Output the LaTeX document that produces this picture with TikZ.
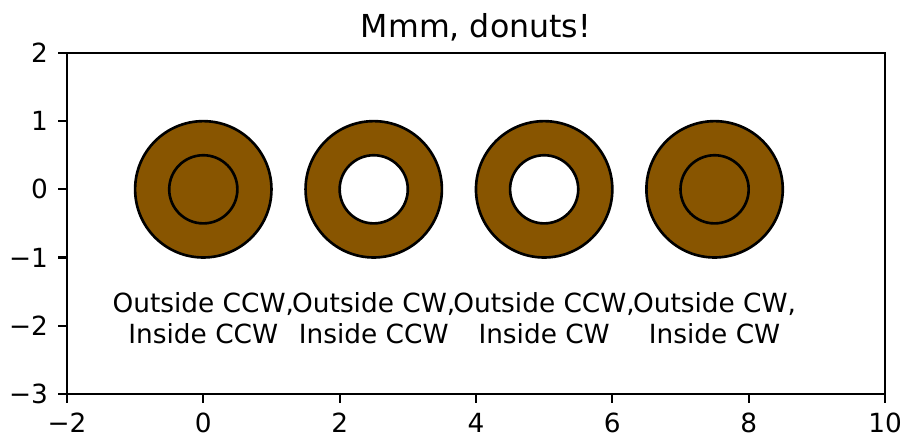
\documentclass[tikz,border=0pt]{standalone}
\usepackage{fontspec}
\setmainfont{DejaVu Sans}
\usepackage{tikz}
\usetikzlibrary{positioning}

\definecolor{donut}{HTML}{885500}

\tikzset{
    spine/.style={line width=0.88pt},
    tick/.style={line width=0.88pt},
    ticklabel/.style={font=\fontsize{11}{13.2}\selectfont, inner sep=0pt},
    ring/.style={fill=donut, draw=black, line width=1.1pt},
    holering/.style={ring, even odd rule}
}

\begin{document}
\begin{tikzpicture}[x=1cm, y=1cm]
    \useasboundingbox (-2.982,-3.616) rectangle (10.293,2.777);

    % Donuts: inside filled when both turn the same way
    \filldraw[ring] (0,0) circle (1) (0,0) circle (0.5);
    \filldraw[holering] (2.5,0) circle (1) (2.5,0) circle (0.5);
    \filldraw[holering] (5,0) circle (1) (5,0) circle (0.5);
    \filldraw[ring] (7.5,0) circle (1) (7.5,0) circle (0.5);

    % Labels below the donuts
    \node[ticklabel, anchor=north, align=center] (lab1) at (0,-1.5) {Outside CCW,\\Inside CCW};
    \node[ticklabel, anchor=north, align=center] (lab2) at (2.5,-1.5) {Outside CW,\\Inside CCW};
    \node[ticklabel, anchor=north, align=center] (lab3) at (5,-1.5) {Outside CCW,\\Inside CW};
    \node[ticklabel, anchor=north, align=center] (lab4) at (7.5,-1.5) {Outside CW,\\Inside CW};

    % Axes frame
    \draw[spine] (-2,-3) rectangle (10,2);

    % x ticks
    \foreach \x/\lbl in {-2/−2, 0/0, 2/2, 4/4, 6/6, 8/8, 10/10} {
        \draw[tick] (\x,-3) -- ++(0,-0.136);
        \node[ticklabel, anchor=north] (xt\x) at (\x,-3.272) {\lbl};
    }

    % y ticks
    \foreach \y/\lbl in {2/2, 1/1, 0/0, -1/−1, -2/−2, -3/−3} {
        \draw[tick] (-2,\y) -- ++(-0.136,0);
        \node[ticklabel, anchor=east] (yt\y) at (-2.272,\y) {\lbl};
    }

    % Title
    \node[font=\fontsize{13.2}{15.8}\selectfont, inner sep=0pt, anchor=base] (title) at (4,2.232) {Mmm, donuts!};
\end{tikzpicture}
\end{document}
